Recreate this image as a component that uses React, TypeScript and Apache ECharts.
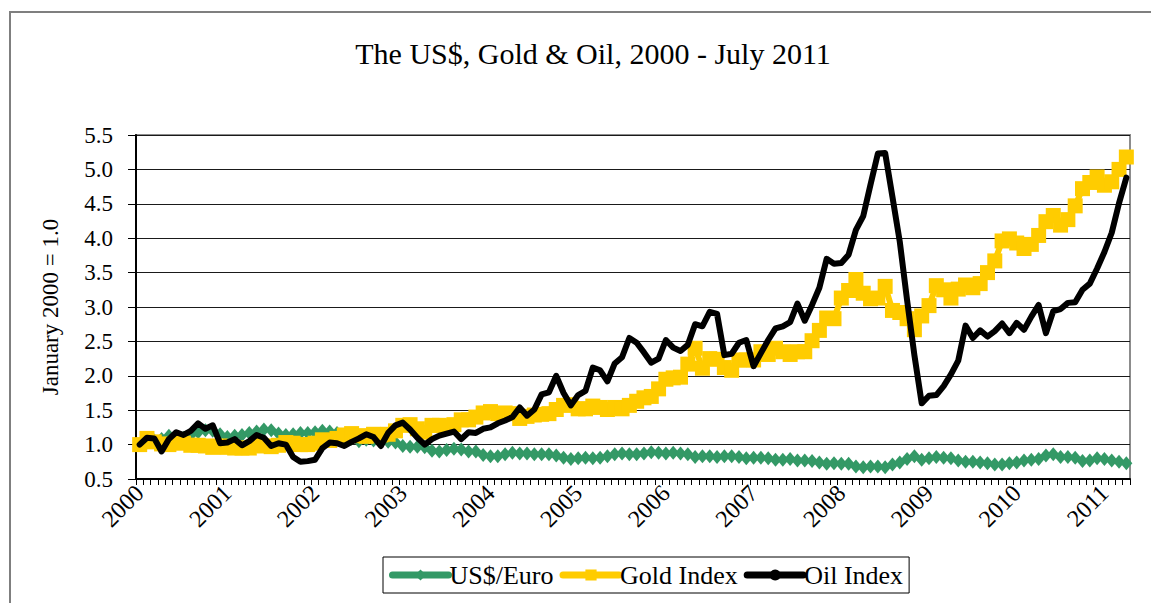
import React, { useEffect, useRef } from "react";
import * as echarts from "echarts";

const years = ["2000", "2001", "2002", "2003", "2004", "2005", "2006", "2007", "2008", "2009", "2010", "2011"];
const months = ["01", "02", "03", "04", "05", "06", "07", "08", "09", "10", "11", "12"];
const categories = years.flatMap((y) => months.map((m) => `${y}-${m}`)).slice(0, 136);

const usdEuro = [
  1.00, 1.03, 1.06, 1.08, 1.13, 1.09, 1.10, 1.14, 1.18, 1.21, 1.20, 1.15,
  1.11, 1.13, 1.14, 1.17, 1.19, 1.22, 1.21, 1.16, 1.14, 1.15, 1.17, 1.17,
  1.18, 1.20, 1.19, 1.17, 1.14, 1.09, 1.05, 1.07, 1.06, 1.06, 1.04, 1.03,
  0.98, 0.97, 0.97, 0.96, 0.91, 0.90, 0.92, 0.94, 0.93, 0.90, 0.90, 0.85,
  0.83, 0.83, 0.86, 0.88, 0.87, 0.87, 0.86, 0.86, 0.86, 0.84, 0.81, 0.79,
  0.80, 0.81, 0.80, 0.81, 0.83, 0.86, 0.87, 0.86, 0.86, 0.87, 0.89, 0.88,
  0.87, 0.88, 0.87, 0.86, 0.82, 0.83, 0.83, 0.82, 0.83, 0.83, 0.82, 0.80,
  0.81, 0.81, 0.80, 0.78, 0.78, 0.79, 0.77, 0.77, 0.76, 0.74, 0.72, 0.73,
  0.72, 0.72, 0.68, 0.67, 0.68, 0.68, 0.67, 0.71, 0.74, 0.79, 0.83, 0.78,
  0.80, 0.82, 0.81, 0.80, 0.77, 0.75, 0.75, 0.74, 0.73, 0.71, 0.71, 0.73,
  0.74, 0.77, 0.78, 0.79, 0.84, 0.86, 0.82, 0.82, 0.81, 0.76, 0.77, 0.80,
  0.79, 0.77, 0.75, 0.73,
];

const goldIndex = [
  1.00, 1.09, 1.04, 1.01, 1.00, 1.03, 1.02, 0.99, 0.99, 0.98, 0.96, 0.98,
  0.96, 0.95, 0.95, 0.95, 0.99, 0.98, 0.97, 0.99, 1.03, 1.02, 1.00, 1.00,
  1.02, 1.07, 1.06, 1.09, 1.14, 1.16, 1.13, 1.12, 1.15, 1.14, 1.15, 1.20,
  1.28, 1.29, 1.23, 1.18, 1.28, 1.28, 1.26, 1.29, 1.36, 1.36, 1.40, 1.46,
  1.48, 1.45, 1.46, 1.45, 1.38, 1.41, 1.43, 1.44, 1.45, 1.51, 1.57, 1.58,
  1.52, 1.52, 1.56, 1.54, 1.51, 1.54, 1.52, 1.57, 1.63, 1.68, 1.70, 1.81,
  1.95, 1.97, 1.98, 2.17, 2.40, 2.11, 2.25, 2.24, 2.12, 2.08, 2.23, 2.23,
  2.23, 2.35, 2.31, 2.40, 2.35, 2.31, 2.35, 2.35, 2.51, 2.66, 2.84, 2.83,
  3.13, 3.24, 3.40, 3.20, 3.12, 3.13, 3.30, 2.95, 2.92, 2.83, 2.67, 2.87,
  3.02, 3.31, 3.25, 3.13, 3.26, 3.32, 3.28, 3.34, 3.50, 3.67, 3.96, 3.99,
  3.93, 3.85, 3.91, 4.04, 4.24, 4.33, 4.19, 4.27, 4.47, 4.72, 4.81, 4.89,
  4.77, 4.82, 5.00, 5.18,
];

const oilIndex = [
  1.00, 1.10, 1.09, 0.90, 1.08, 1.18, 1.14, 1.20, 1.31, 1.23, 1.28, 1.02,
  1.03, 1.08, 0.99, 1.05, 1.14, 1.10, 0.98, 1.02, 1.00, 0.82, 0.75, 0.76,
  0.78, 0.95, 1.03, 1.02, 0.98, 1.04, 1.09, 1.15, 1.11, 0.98, 1.17, 1.28,
  1.32, 1.22, 1.10, 1.00, 1.08, 1.13, 1.16, 1.19, 1.08, 1.18, 1.17, 1.23,
  1.25, 1.31, 1.35, 1.40, 1.54, 1.42, 1.51, 1.73, 1.76, 2.00, 1.75, 1.57,
  1.72, 1.78, 2.12, 2.08, 1.92, 2.18, 2.27, 2.55, 2.48, 2.34, 2.19, 2.25,
  2.52, 2.41, 2.36, 2.45, 2.75, 2.72, 2.93, 2.90, 2.30, 2.32, 2.48, 2.52,
  2.14, 2.33, 2.52, 2.69, 2.72, 2.78, 3.05, 2.80, 3.03, 3.28, 3.70, 3.63,
  3.64, 3.76, 4.12, 4.32, 4.78, 5.23, 5.24, 4.60, 3.95, 3.10, 2.30, 1.60,
  1.71, 1.72, 1.85, 2.02, 2.22, 2.73, 2.55, 2.66, 2.57, 2.65, 2.76, 2.62,
  2.77, 2.67, 2.86, 3.03, 2.62, 2.94, 2.97, 3.06, 3.07, 3.25, 3.34, 3.56,
  3.80, 4.08, 4.51, 4.88,
];

const FONT = "'Liberation Serif', 'DejaVu Serif', 'Times New Roman', serif";

export default function App() {
  const ref = useRef<HTMLDivElement>(null);
  useEffect(() => {
    if (!ref.current) return;
    const chart = echarts.init(ref.current, null, { renderer: "svg" });
    chart.setOption({
      animation: false,
      backgroundColor: "#ffffff",
      textStyle: { fontFamily: FONT, color: "#000" },
      title: {
        text: "The US$, Gold & Oil, 2000 - July 2011",
        left: 588,
        top: 33,
        textAlign: "center",
        textStyle: { fontFamily: FONT, fontSize: 30, fontWeight: "normal", color: "#000" },
      },
      graphic: [
        {
          type: "rect",
          shape: { x: 10, y: 12, width: 1160, height: 640 },
          style: { fill: "none", stroke: "#7f7f7f", lineWidth: 2 },
          silent: true,
        },
      ],
      legend: {
        left: 383,
        top: 557,
        itemWidth: 56,
        itemHeight: 14,
        itemGap: 6,
        padding: [5, 6, 5, 6],
        borderColor: "#000",
        borderWidth: 1,
        lineStyle: { width: 7, cap: "round" },
        textStyle: { fontFamily: FONT, fontSize: 26, color: "#000", padding: [0, 0, 0, -4] },
        data: ["US$/Euro", "Gold Index", "Oil Index"],
      },
      grid: {
        left: 136,
        right: 21,
        top: 135,
        bottom: 124,
        show: true,
        borderColor: "#8c8c8c",
        borderWidth: 2,
        containLabel: false,
      },
      xAxis: {
        type: "category",
        data: categories,
        boundaryGap: true,
        axisLine: { lineStyle: { color: "#000", width: 2 } },
        axisTick: { show: true, interval: 0, length: 6, lineStyle: { color: "#000", width: 1 } },
        axisLabel: {
          interval: (index: number) => index % 12 === 0,
          formatter: (v: string) => v.slice(0, 4),
          rotate: 45,
          margin: 10,
          fontFamily: FONT,
          fontSize: 24,
          color: "#000",
        },
        splitLine: { show: false },
      },
      yAxis: {
        type: "value",
        min: 0.5,
        max: 5.5,
        interval: 0.5,
        name: "January 2000 = 1.0",
        nameLocation: "middle",
        nameGap: 74,
        nameRotate: 90,
        nameTextStyle: { fontFamily: FONT, fontSize: 23, color: "#000" },
        axisLine: { show: true, lineStyle: { color: "#000", width: 2 } },
        axisTick: { show: true, length: 8, lineStyle: { color: "#000", width: 1 } },
        axisLabel: {
          formatter: (v: number) => v.toFixed(1),
          margin: 23,
          fontFamily: FONT,
          fontSize: 23,
          color: "#000",
        },
        splitLine: { show: true, lineStyle: { color: "#1a1a1a", width: 1 } },
      },
      series: [
        {
          name: "US$/Euro",
          type: "line",
          data: usdEuro,
          symbol: "diamond",
          symbolSize: [12, 14],
          showSymbol: true,
          showAllSymbol: true,
          itemStyle: { color: "#339966" },
          lineStyle: { color: "#339966", width: 4 },
          z: 2,
        },
        {
          name: "Gold Index",
          type: "line",
          data: goldIndex,
          symbol: "rect",
          symbolSize: 15,
          showSymbol: true,
          showAllSymbol: true,
          itemStyle: { color: "#FFCC00" },
          lineStyle: { color: "#FFCC00", width: 6 },
          z: 3,
        },
        {
          name: "Oil Index",
          type: "line",
          data: oilIndex,
          symbol: "none",
          itemStyle: { color: "#000" },
          lineStyle: { color: "#000", width: 6, cap: "round", join: "round" },
          z: 4,
        },
      ],
    });
    return () => chart.dispose();
  }, []);
  return (
    <div
      ref={ref}
      style={{ position: "fixed", left: 0, top: 0, width: 1151, height: 603, background: "#fff" }}
    />
  );
}
